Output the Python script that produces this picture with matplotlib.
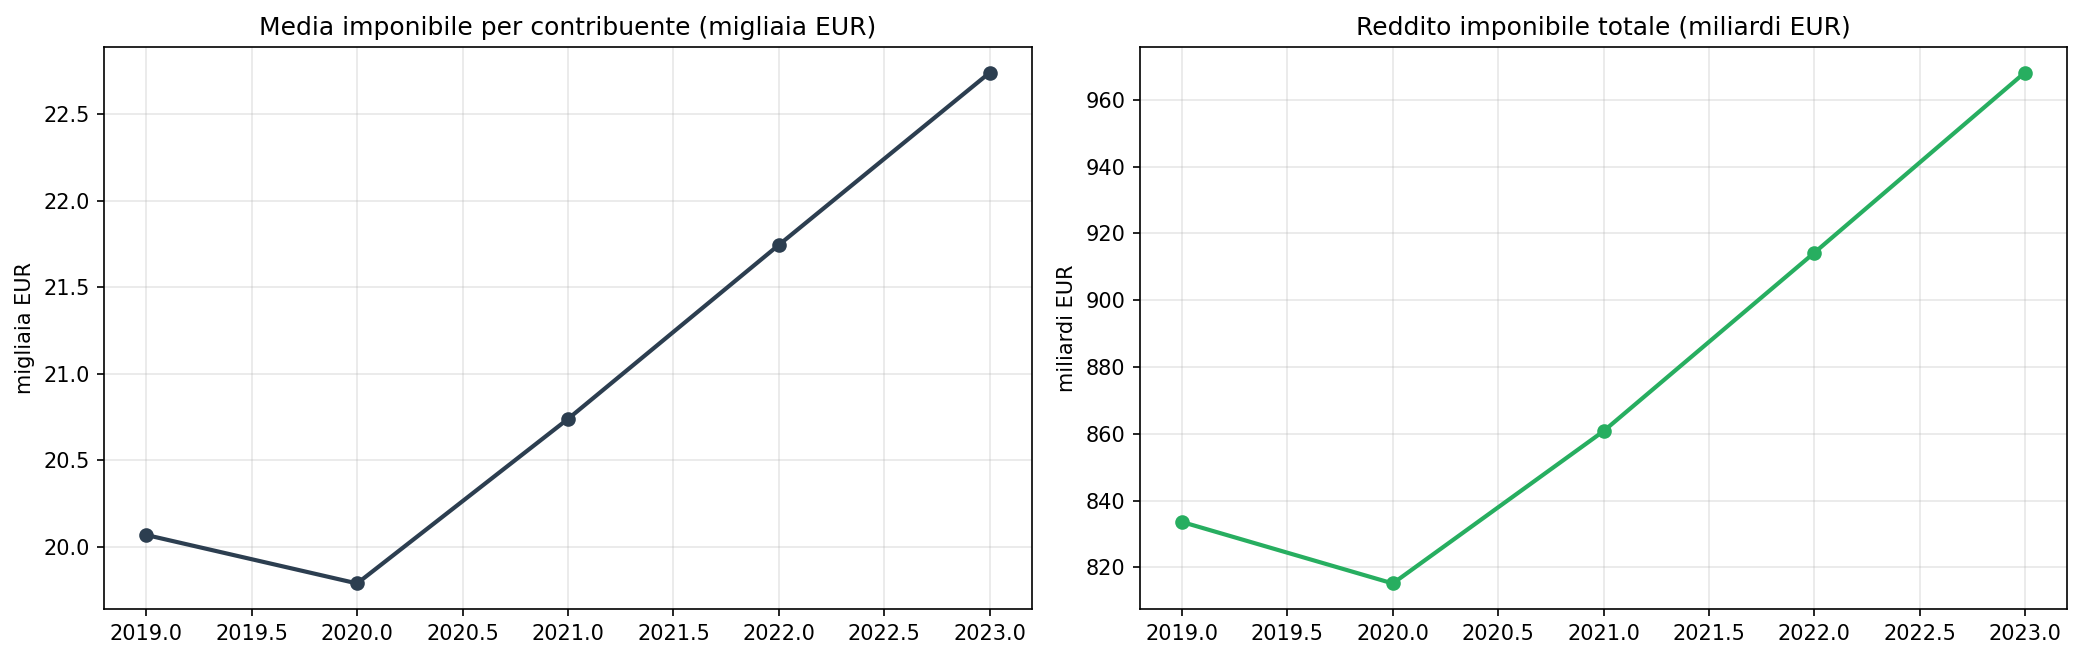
import numpy as np
import matplotlib.pyplot as plt

years = [2019, 2020, 2021, 2022, 2023]
media_migliaia = [20.07, 19.79, 20.74, 21.745, 22.74]
totale_miliardi = [833.6, 815.2, 860.8, 914.2, 968.2]

fig = plt.figure(figsize=(13.88, 4.4))
ax1 = fig.add_axes([104 / 2082, 1 - 609 / 660, (1032 - 104) / 2082, (609 - 47) / 660])
ax2 = fig.add_axes([1140 / 2082, 1 - 609 / 660, (2067 - 1140) / 2082, (609 - 47) / 660])

ax1.plot(years, media_migliaia, marker="o", color="#2c3e50", linewidth=2, markersize=6)
ax1.set_title("Media imponibile per contribuente (migliaia EUR)")
ax1.set_ylabel("migliaia EUR")
ax1.grid(alpha=0.3)

ax2.plot(years, totale_miliardi, marker="o", color="#27ae60", linewidth=2, markersize=6)
ax2.set_title("Reddito imponibile totale (miliardi EUR)")
ax2.set_ylabel("miliardi EUR")
ax2.grid(alpha=0.3)

plt.savefig("out.png", dpi=150)
